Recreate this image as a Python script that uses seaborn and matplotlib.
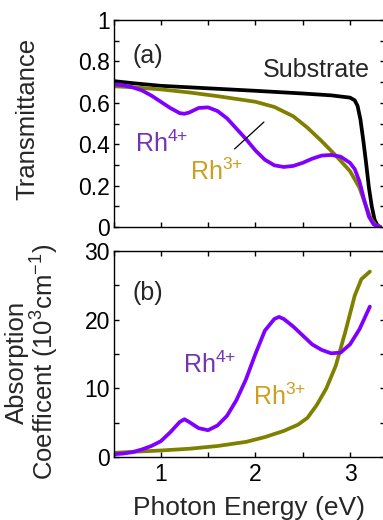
import matplotlib
matplotlib.use("Agg")
import matplotlib.pyplot as plt
import seaborn as sns
import pandas as pd
from matplotlib.ticker import MultipleLocator

# ---------------- data ----------------
# (a) Transmittance
sub_x = [0.5, 0.7, 1.0, 1.5, 2.0, 2.5, 2.8, 3.0, 3.05, 3.08, 3.11, 3.14, 3.17, 3.20, 3.23, 3.26, 3.29, 3.32]
sub_y = [0.705, 0.695, 0.682, 0.670, 0.658, 0.645, 0.636, 0.625, 0.612, 0.585, 0.52, 0.42, 0.31, 0.19, 0.10, 0.035, 0.008, 0.0]

rh3_tx = [0.5, 0.7, 1.0, 1.3, 1.6, 2.0, 2.2, 2.4, 2.55, 2.7, 2.85, 3.0, 3.1, 3.17, 3.22, 3.27, 3.32]
rh3_ty = [0.68, 0.675, 0.665, 0.65, 0.632, 0.605, 0.58, 0.535, 0.48, 0.415, 0.345, 0.27, 0.19, 0.10, 0.04, 0.01, 0.0]

rh4_tx = [0.5, 0.6, 0.7, 0.8, 0.9, 1.0, 1.1, 1.2, 1.25, 1.3, 1.4, 1.5, 1.6, 1.7, 1.8, 1.9, 2.0, 2.1,
          2.2, 2.3, 2.4, 2.5, 2.6, 2.7, 2.8, 2.9, 3.0, 3.05, 3.1, 3.15, 3.2, 3.25, 3.32]
rh4_ty = [0.69, 0.685, 0.675, 0.66, 0.635, 0.605, 0.575, 0.55, 0.547, 0.553, 0.575, 0.578, 0.56, 0.525,
          0.475, 0.425, 0.37, 0.325, 0.298, 0.29, 0.295, 0.31, 0.33, 0.345, 0.348, 0.34, 0.31, 0.28,
          0.22, 0.13, 0.05, 0.012, 0.0]

# (b) Absorption coefficient (10^3 cm^-1)
rh4_ax = [0.5, 0.6, 0.7, 0.8, 0.9, 1.0, 1.1, 1.2, 1.25, 1.3, 1.4, 1.5, 1.6, 1.7, 1.8, 1.9, 2.0, 2.1,
          2.2, 2.25, 2.3, 2.4, 2.5, 2.6, 2.7, 2.8, 2.9, 3.0, 3.1, 3.21]
rh4_ay = [0.4, 0.5, 0.7, 1.1, 1.6, 2.3, 3.6, 5.1, 5.5, 5.1, 4.2, 3.9, 4.6, 6.0, 8.3, 11.3, 15.0, 18.4,
          20.1, 20.4, 20.1, 19.0, 17.7, 16.4, 15.6, 15.1, 15.2, 16.4, 18.6, 21.9]

rh3_ax = [0.5, 0.7, 1.0, 1.3, 1.6, 1.9, 2.1, 2.3, 2.45, 2.55, 2.65, 2.75, 2.85, 2.95, 3.05, 3.12, 3.21]
rh3_ay = [0.6, 0.75, 0.95, 1.2, 1.6, 2.2, 2.9, 3.8, 4.7, 5.7, 7.6, 10.0, 13.3, 18.2, 23.5, 25.9, 27.0]

# ---------------- style ----------------
sns.set_theme(style="ticks")
plt.rcParams["font.family"] = ["Liberation Sans", "DejaVu Sans"]
plt.rcParams["mathtext.fontset"] = "custom"
plt.rcParams["mathtext.rm"] = "Liberation Sans"
plt.rcParams["mathtext.default"] = "regular"

C_SUB = "#000000"
C_RH3 = "#808000"
C_RH4 = "#8000FF"
T_RH3 = "#CC9F1E"
T_RH4 = "#7434B0"
LW = 2.7
TICK_FS = 16.5
LAB_FS = 18.5
ANN_FS = 18

fig = plt.figure(figsize=(3.83, 5.20), dpi=100)
left, width = 113.5 / 383, 271.5 / 383
ax1 = fig.add_axes([left, 1 - 227 / 520, width, 207 / 520])
ax2 = fig.add_axes([left, 1 - 457 / 520, width, 206 / 520])


def line(ax, xs, ys, color):
    df = pd.DataFrame({"x": xs, "y": ys})
    sns.lineplot(data=df, x="x", y="y", ax=ax, color=color, lw=LW, errorbar=None,
                 solid_capstyle="round", solid_joinstyle="round")


line(ax1, sub_x, sub_y, C_SUB)
line(ax1, rh3_tx, rh3_ty, C_RH3)
line(ax1, rh4_tx, rh4_ty, C_RH4)

line(ax2, rh3_ax, rh3_ay, C_RH3)
line(ax2, rh4_ax, rh4_ay, C_RH4)

for ax in (ax1, ax2):
    ax.set_xlim(0.5, 3.37)
    ax.xaxis.set_major_locator(MultipleLocator(1))
    ax.xaxis.set_minor_locator(MultipleLocator(0.5))
    ax.tick_params(which="both", direction="in", top=True, right=True, length=3.5, width=1,
                   labelsize=TICK_FS, color="black", labelcolor="black")
    ax.tick_params(axis="y", pad=2.5)
    ax.tick_params(axis="x", pad=4)
    for s in ax.spines.values():
        s.set_visible(True)
        s.set_linewidth(1)
        s.set_color("black")
    ax.set_xlabel("")

ax1.set_ylim(0, 1)
ax1.yaxis.set_major_locator(MultipleLocator(0.2))
ax1.yaxis.set_minor_locator(MultipleLocator(0.1))
ax1.set_yticks([0, 0.2, 0.4, 0.6, 0.8, 1.0])
ax1.set_yticklabels(["0", "0.2", "0.4", "0.6", "0.8", "1"])
ax1.tick_params(axis="x", labelbottom=False)

ax2.set_ylim(0, 30)
ax2.yaxis.set_major_locator(MultipleLocator(10))
ax2.yaxis.set_minor_locator(MultipleLocator(5))

# axis labels
ax1.set_ylabel("Transmittance", fontsize=LAB_FS)
ax1.yaxis.label.set_va("center")
ax1.yaxis.set_label_coords(-0.3186, 0.524)

ax2.set_ylabel("Absorption\nCoefficent (10$^3$cm$^{-1}$)", fontsize=LAB_FS, linespacing=1.0)
ax2.yaxis.label.set_va("center")
ax2.yaxis.set_label_coords(-0.2965, 0.46)

ax2.set_xlabel("Photon Energy (eV)", fontsize=19)
ax2.xaxis.set_label_coords(0.5, -0.19)

# annotations
RH4 = "Rh$^{4{+}}$"
RH3 = "Rh$^{3{+}}$"
ax1.text(0.70, 0.79, "(a)", fontsize=ANN_FS, va="baseline", ha="left")
ax1.text(2.08, 0.725, "Substrate", fontsize=ANN_FS, va="baseline", ha="left")
ax1.text(0.725, 0.362, RH4, fontsize=ANN_FS, color=T_RH4, va="baseline", ha="left")
ax1.text(1.307, 0.227, RH3, fontsize=ANN_FS, color=T_RH3, va="baseline", ha="left")
ax1.plot([1.78, 2.09], [0.377, 0.507], color="black", lw=0.9)

ax2.text(0.70, 22.9, "(b)", fontsize=ANN_FS, va="baseline", ha="left")
ax2.text(1.23, 12.2, RH4, fontsize=ANN_FS, color=T_RH4, va="baseline", ha="left")
ax2.text(1.97, 7.6, RH3, fontsize=ANN_FS, color=T_RH3, va="baseline", ha="left")

fig.savefig("out.png", dpi=100)
